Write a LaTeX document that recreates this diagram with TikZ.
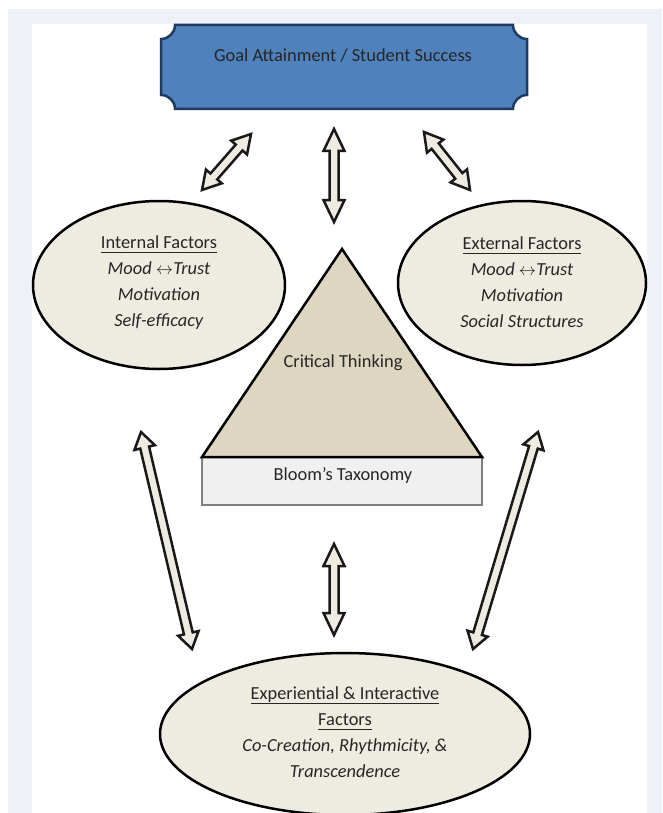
\documentclass[tikz,border=0pt]{standalone}
\usepackage{fontspec}
\setmainfont{Carlito}
\usetikzlibrary{calc,shapes.geometric}
\definecolor{band}{HTML}{EEF1F8}
\definecolor{bannerfill}{HTML}{4F81BD}
\definecolor{bannerline}{HTML}{1F3A60}
\definecolor{beige}{HTML}{EEEBE0}
\definecolor{tanfill}{HTML}{DDD6C1}
\definecolor{rectfill}{HTML}{F0F0F0}
\definecolor{rectline}{HTML}{7F7F7F}
\definecolor{ink}{HTML}{262626}
\newcommand\ulx[1]{\sbox0{#1}\rlap{\usebox0}\rule[-4.5pt]{\wd0}{1.3pt}}
\newcommand\lrarr{\ensuremath{\leftrightarrow}}
\newcommand\ahw{10.5pt}
\newcommand\asw{4.5pt}
\newcommand\blockarrow[3]{%
  \draw[barrow] (#1)
   -- ($(#1)!#3!(#2)!\ahw!90:(#2)$) -- ($(#1)!#3!(#2)!\asw!90:(#2)$)
   -- ($(#2)!#3!(#1)!\asw!-90:(#1)$) -- ($(#2)!#3!(#1)!\ahw!-90:(#1)$)
   -- (#2)
   -- ($(#2)!#3!(#1)!\ahw!90:(#1)$) -- ($(#2)!#3!(#1)!\asw!90:(#1)$)
   -- ($(#1)!#3!(#2)!\asw!-90:(#2)$) -- ($(#1)!#3!(#2)!\ahw!-90:(#2)$)
   -- cycle;}
\begin{document}
\begin{tikzpicture}[x=1pt,y=-1pt,
  txt/.style={text=ink,font=\fontsize{18.4}{26}\selectfont,align=center,inner sep=0pt},
  ell/.style={ellipse,draw=black,fill=beige,line width=2.5pt,inner sep=0pt},
  barrow/.style={draw=black!90,fill=beige,line width=2.5pt,line join=miter}]
\clip (0,0) rectangle (662,813);
\fill[white] (0,0) rectangle (662,813);
\fill[band] (8,9) rectangle (662,813);
\fill[white] (32,24) rectangle (647,813);
% banner
\draw[fill=bannerfill,draw=bannerline,line width=2.5pt]
  (175,25) -- (513,25) .. controls (513,32.7) and (519.3,39) .. (527,39)
  -- (527,95) .. controls (519.3,95) and (513,101.3) .. (513,109)
  -- (175,109) .. controls (175,101.3) and (168.7,95) .. (161,95)
  -- (161,39) .. controls (168.7,39) and (175,32.7) .. (175,25) -- cycle;
\node[txt] (goal) at (343,56) {Goal Attainment / Student Success};
% ellipses
\node[ell,minimum width=252pt,minimum height=168pt] (intl) at (159,285) {};
\node[txt] (intltxt) at (159,283) {\ulx{Internal Factors}\\ \textit{Mood \lrarr Trust}\\ \textit{Motivation}\\ \textit{Self-efficacy}};
\node[ell,minimum width=248pt,minimum height=164pt] (extl) at (522,283) {};
\node[txt] (extltxt) at (522,282) {\ulx{External Factors}\\ \textit{Mood \lrarr Trust}\\ \textit{Motivation}\\ \textit{Social Structures}};
\node[ell,minimum width=370pt,minimum height=162pt] (expr) at (345,734) {};
\node[txt] (exprtxt) at (345,732) {\ulx{Experiential \& Interactive}\\ \ulx{Factors}\\ \textit{Co-Creation, Rhythmicity, \&}\\ \textit{Transcendence}};
% pyramid
\coordinate (apex) at (342,249);
\coordinate (bl) at (202,457);
\coordinate (br) at (482,457);
\draw[fill=rectfill,draw=rectline,line width=1.5pt] (bl) rectangle (482,505);
\draw[fill=tanfill,draw=black,line width=2.5pt,line join=miter] (apex) -- (br) -- (bl) -- cycle;
\node[txt] (crit) at (343,363) {Critical Thinking};
\node[txt] (bloom) at (343,475) {Bloom’s Taxonomy};
% arrows
\coordinate (a1s) at (202,190); \coordinate (a1e) at (251,134);
\coordinate (a2s) at (334,129); \coordinate (a2e) at (334,222);
\coordinate (a3s) at (424,132); \coordinate (a3e) at (470,190);
\coordinate (a4s) at (141,432); \coordinate (a4e) at (192,649);
\coordinate (a5s) at (334,544); \coordinate (a5e) at (334,635);
\coordinate (a6s) at (538,432); \coordinate (a6e) at (473,649);
\blockarrow{a1s}{a1e}{18pt}
\blockarrow{a2s}{a2e}{22pt}
\blockarrow{a3s}{a3e}{18pt}
\blockarrow{a4s}{a4e}{16pt}
\blockarrow{a5s}{a5e}{22pt}
\blockarrow{a6s}{a6e}{16pt}
\end{tikzpicture}
\end{document}
